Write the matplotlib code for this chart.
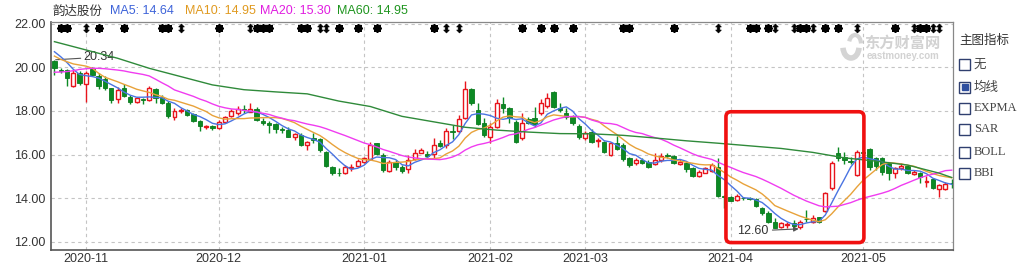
import numpy as np
import pandas as pd
import matplotlib
matplotlib.use('Agg')
import matplotlib.pyplot as plt
from matplotlib.patches import FancyBboxPatch, Rectangle, Arc

# 韵达股份 日K (2020-10-26 ~ 2021-05-26)
opens = [20.30, 19.86, 19.87, 19.14, 19.72, 19.22, 19.90, 19.60, 19.44, 19.03,
         18.53, 19.03, 18.65, 18.42, 18.53, 18.50, 19.00, 18.62, 18.38, 17.71,
         18.00, 18.04, 17.86, 17.54, 17.27, 17.31, 17.20, 17.51, 17.77, 17.92,
         18.07, 17.96, 18.07, 17.55, 17.46, 17.40, 17.15, 17.13, 16.82, 16.90,
         16.42, 16.75, 16.70, 16.13, 15.42, 15.17, 15.14, 15.38, 15.48, 15.68,
         15.78, 16.51, 15.98, 15.25, 15.68, 15.45, 15.33, 15.78, 16.09, 16.03,
         16.03, 16.51, 16.44, 17.09, 17.09, 17.66, 18.99, 18.04, 17.46, 16.79,
         17.28, 18.32, 18.12, 17.51, 16.74, 17.63, 17.66, 17.89, 18.22, 18.88,
         18.12, 17.92, 17.70, 17.31, 16.74, 17.05, 16.60, 16.59, 15.98, 16.51,
         16.44, 15.83, 15.60, 15.75, 15.68, 15.57, 15.75, 15.98, 15.93, 15.57,
         15.60, 15.37, 15.02, 15.17, 15.26, 15.45, 14.10, 14.07, 13.92, 14.00,
         14.00, 13.95, 13.54, 13.34, 12.93, 12.70, 12.79, 12.85, 12.70, 13.06,
         12.90, 13.13, 13.43, 14.45, 16.09, 15.90, 15.72, 15.07, 16.10, 16.24,
         15.83, 15.83, 15.60, 15.14, 15.37, 15.48, 15.11, 15.17, 14.76, 14.87,
         14.42, 14.41, 14.70]
highs = [20.34, 19.95, 19.90, 19.87, 19.84, 19.83, 19.99, 19.72, 19.60, 19.06,
         19.11, 19.23, 18.73, 18.65, 18.57, 19.14, 19.06, 18.73, 18.47, 18.12,
         18.12, 18.07, 17.92, 17.58, 17.35, 17.35, 17.58, 17.77, 18.07, 18.22,
         18.27, 18.38, 18.19, 17.66, 17.55, 17.46, 17.25, 17.25, 17.00, 16.97,
         16.64, 16.97, 16.78, 16.15, 15.48, 15.37, 15.52, 15.57, 15.78, 15.90,
         16.59, 16.55, 16.06, 15.75, 15.75, 15.52, 15.98, 16.24, 16.29, 16.18,
         16.74, 16.67, 17.20, 17.35, 17.81, 19.38, 19.03, 18.35, 17.66, 17.43,
         18.53, 18.62, 18.19, 17.58, 17.92, 17.74, 18.16, 18.53, 18.83, 18.93,
         18.38, 18.12, 17.81, 17.40, 17.09, 17.16, 16.74, 16.64, 16.59, 16.85,
         16.51, 15.90, 15.83, 15.83, 15.75, 16.06, 16.06, 16.06, 15.98, 15.78,
         15.68, 15.42, 15.29, 15.45, 15.60, 15.83, 14.15, 14.10, 14.20, 14.07,
         14.05, 14.00, 13.62, 13.43, 13.08, 12.93, 12.93, 13.00, 13.00, 13.46,
         13.23, 13.16, 14.30, 15.72, 16.33, 16.13, 15.90, 16.21, 16.67, 16.30,
         15.90, 15.90, 15.68, 15.45, 15.60, 15.52, 15.29, 15.22, 15.02, 14.91,
         14.65, 14.76, 14.87]
lows = [19.64, 19.72, 19.14, 19.11, 19.19, 18.42, 19.60, 19.00, 18.96, 18.35,
        18.38, 18.62, 18.32, 18.37, 18.32, 18.47, 18.37, 18.32, 17.66, 17.58,
        17.90, 17.77, 17.49, 17.09, 17.16, 17.12, 17.16, 17.46, 17.72, 17.81,
        17.92, 17.95, 17.55, 17.36, 16.97, 17.00, 17.00, 16.79, 16.67, 16.39,
        16.20, 16.55, 16.13, 15.44, 15.07, 15.02, 15.11, 15.27, 15.45, 15.63,
        15.75, 15.98, 15.22, 15.22, 15.30, 15.14, 15.14, 15.75, 16.06, 15.87,
        15.78, 16.33, 16.29, 16.70, 17.00, 17.61, 18.27, 17.35, 16.79, 16.55,
        17.20, 17.89, 17.43, 16.51, 16.67, 17.40, 17.28, 17.81, 18.12, 18.12,
        17.96, 17.61, 17.35, 16.70, 16.67, 16.52, 16.36, 16.09, 15.93, 16.21,
        15.72, 15.45, 15.52, 15.57, 15.37, 15.52, 15.68, 15.83, 15.57, 15.52,
        15.22, 14.99, 14.99, 15.14, 15.22, 14.05, 13.54, 13.86, 13.89, 13.92,
        13.90, 13.62, 13.23, 12.88, 12.62, 12.65, 12.64, 12.70, 12.60, 12.93,
        12.85, 12.85, 13.39, 14.38, 15.72, 15.57, 15.57, 15.02, 15.90, 15.30,
        15.30, 15.07, 14.83, 14.91, 15.29, 15.09, 15.07, 14.71, 14.53, 14.41,
        14.05, 14.38, 14.45]
closes = [19.98, 19.84, 19.49, 19.75, 19.26, 19.72, 19.64, 19.14, 19.03, 18.50,
          18.96, 18.68, 18.42, 18.57, 18.50, 19.03, 18.57, 18.35, 17.77, 18.01,
          18.04, 17.81, 17.54, 17.31, 17.30, 17.20, 17.51, 17.71, 17.98, 18.07,
          18.03, 18.09, 17.58, 17.43, 17.35, 17.16, 17.13, 16.82, 16.94, 16.44,
          16.58, 16.68, 16.21, 15.48, 15.14, 15.14, 15.45, 15.42, 15.72, 15.83,
          16.44, 16.03, 15.29, 15.68, 15.42, 15.27, 15.75, 16.09, 16.21, 15.95,
          16.44, 16.39, 17.09, 17.03, 17.61, 18.99, 18.35, 17.40, 16.90, 17.28,
          18.38, 18.12, 17.66, 16.59, 17.43, 17.46, 17.40, 18.38, 18.57, 18.19,
          18.04, 17.74, 17.43, 16.82, 16.97, 16.59, 16.65, 16.13, 16.55, 16.24,
          15.78, 15.52, 15.75, 15.60, 15.45, 15.75, 15.93, 15.93, 15.60, 15.68,
          15.32, 15.02, 15.22, 15.37, 15.52, 14.10, 14.05, 13.89, 14.10, 13.99,
          13.97, 13.65, 13.31, 12.93, 12.65, 12.85, 12.82, 12.73, 12.90, 13.04,
          13.11, 12.90, 14.23, 15.63, 15.83, 15.75, 15.66, 16.13, 16.05, 15.45,
          15.48, 15.22, 15.14, 15.37, 15.48, 15.14, 15.22, 14.99, 14.79, 14.45,
          14.62, 14.65, 14.68]

# first values of the averages (history before the window is not on the chart)
ma5_head = [20.71, 20.48, 20.21, 19.90]
ma10_head = [20.51, 20.36, 20.25, 20.15, 20.10, 20.05, 19.95, 19.72, 19.54]
ma20_head = [19.77, 19.78, 19.80, 19.84, 19.90, 19.93, 19.95, 19.95, 19.93, 19.90,
             19.87, 19.83, 19.77, 19.72, 19.67, 19.60, 19.45, 19.29, 19.14]

# MA60
ma60_idx = [0, 5, 10, 15, 20, 25, 30, 35, 40, 45, 50, 55, 60, 65, 70, 75, 80,
            85, 90, 95, 100, 105, 110, 115, 120, 125, 130, 135, 140, 142]
ma60_val = [21.17, 20.79, 20.41, 19.95, 19.57, 19.19, 18.97, 18.87, 18.78, 18.45,
            18.20, 17.75, 17.50, 17.25, 17.12, 17.03, 16.96, 16.95, 16.88, 16.76,
            16.63, 16.52, 16.40, 16.28, 16.10, 15.85, 15.70, 15.52, 15.15, 14.95]

month_idx = [5, 26, 49, 69, 84, 107, 128]
month_lab = ['2020-11', '2020-12', '2021-01', '2021-02', '2021-03', '2021-04', '2021-05']

# event markers on top row
star_idx = [1, 2, 7, 11, 17, 18, 26, 32, 33, 34, 39, 40, 45, 48, 51, 60, 74, 77,
            79, 82, 90, 91, 98, 110, 111, 113, 118, 119, 122, 124, 133, 137, 138]
arrow_idx = [5, 20, 31, 42, 43, 62, 64, 105, 114, 117, 120, 127, 136, 139, 140]

legend_txt = ['MA5: 14.64', 'MA10: 14.95', 'MA20: 15.30', 'MA60: 14.95']
menu_items = ['无', '均线', 'EXPMA', 'SAR', 'BOLL', 'BBI']

plt.rcParams['font.family'] = ['Liberation Sans', 'Noto Sans CJK SC', 'DejaVu Sans']

W, H = 1017, 270
fig = plt.figure(figsize=(W / 100, H / 100), dpi=100)
ax = fig.add_axes([51 / W, 20 / H, 902 / W, 228 / H])

o = np.array(opens)
h = np.array(highs)
l = np.array(lows)
c = np.array(closes)
x = np.arange(len(c))
up = c >= o
red = '#e8141c'
green = '#0c8a24'

s = pd.Series(c)
ma5 = s.rolling(5).mean().values
ma5[:4] = ma5_head
ma10 = s.rolling(10).mean().values
ma10[:9] = ma10_head
ma20 = s.rolling(20).mean().values
ma20[:19] = ma20_head

# grid
ax.set_yticks([12, 14, 16, 18, 20, 22])
ax.set_yticklabels(['%.2f' % v for v in [12, 14, 16, 18, 20, 22]])
ax.set_xticks(month_idx)
ax.set_xticklabels(month_lab)
ax.grid(True, linestyle=(0, (3, 3)), color='#c4c4c4', lw=0.8)
ax.set_axisbelow(True)

# candles
top = np.maximum(o, c)
bot = np.minimum(o, c)
ax.vlines(x[~up], l[~up], h[~up], color=green, lw=1, zorder=2)
ax.vlines(x[up], top[up], h[up], color=red, lw=1, zorder=2)
ax.vlines(x[up], l[up], bot[up], color=red, lw=1, zorder=2)
body = np.maximum(top - bot, 0.025)
ax.bar(x[~up], body[~up], bottom=bot[~up], width=0.7, color=green,
       edgecolor='#0a7a1e', lw=0.6, zorder=3)
ax.bar(x[up], body[up], bottom=bot[up], width=0.62, color='white',
       edgecolor=red, lw=1, zorder=3)

# moving averages
ax.plot(x, ma5, color='#4a74e2', lw=1, zorder=4)
ax.plot(x, ma10, color='#e8a23a', lw=1, zorder=4)
ax.plot(x, ma20, color='#f03cf0', lw=1, zorder=4)
ax.plot(ma60_idx, ma60_val, color='#2f8a3a', lw=1, zorder=4)

# markers
ax.scatter(star_idx, [21.79] * len(star_idx), marker=(8, 2, 0), s=26,
           linewidths=1.4, color='black', zorder=5)
ax.scatter(arrow_idx, [21.79] * len(arrow_idx), marker='$⬍$', s=40,
           linewidths=0.5, color='black', zorder=5)

# high / low notes
ax.annotate('20.34', xy=(0.2, 20.34), xytext=(4.6, 20.46), fontsize=9,
            color='#333333', ha='left', va='center',
            arrowprops=dict(arrowstyle='-', color='#555555', lw=0.8, shrinkA=0, shrinkB=0))
ax.annotate('12.60', xy=(118, 12.60), xytext=(108.0, 12.50), fontsize=9,
            color='#333333', ha='left', va='center',
            arrowprops=dict(arrowstyle='-|>', color='#555555', lw=0.8,
                            mutation_scale=7, shrinkA=1, shrinkB=1))

# red highlight box
box = FancyBboxPatch((106.27, 11.97), 21.83, 5.99,
                     boxstyle='round,pad=0,rounding_size=0.8',
                     mutation_aspect=6.32 / 21.85, fill=False,
                     ec='#f01010', lw=2.6, zorder=6)
ax.add_patch(box)

ax.set_xlim(-0.54, 142.2)
ax.set_ylim(11.63, 22.07)
ax.tick_params(axis='both', length=0, labelsize=9, colors='#333333')
ax.tick_params(axis='y', pad=4)
ax.tick_params(axis='x', pad=2)
for sp in ['left', 'bottom']:
    ax.spines[sp].set_color('#555555')
    ax.spines[sp].set_linewidth(1.2)
for sp in ['right', 'top']:
    ax.spines[sp].set_color('#888888')
    ax.spines[sp].set_linewidth(0.9)

# title row
fig.text(53 / W, 1 - 11 / H, '韵达股份', fontsize=9, color='#333333',
         va='center', family='Noto Sans CJK SC')
leg_x = [110, 185, 260, 337]
leg_c = ['#3d63d9', '#e09a20', '#e01de0', '#1f951f']
for t, xx, cc in zip(legend_txt, leg_x, leg_c):
    fig.text(xx / W, 1 - 11 / H, t, fontsize=9, color=cc, va='center')

# watermark
fig.add_artist(Arc((851 / W, 1 - 47 / H), 16 / W, 22 / H, theta1=200, theta2=340,
                   transform=fig.transFigure, color='#d4d4d4', lw=4))
fig.add_artist(Arc((855 / W, 1 - 44 / H), 12 / W, 18 / H, theta1=20, theta2=120,
                   transform=fig.transFigure, color='#d4d4d4', lw=3))
fig.text(902 / W, 1 - 43 / H, '东方财富网', fontsize=11, color='#d2d2d2',
         ha='center', va='center', family='Noto Sans CJK SC', fontweight='bold')
fig.text(903 / W, 1 - 56 / H, 'eastmoney.com', fontsize=7, color='#d2d2d2',
         ha='center', va='center', fontweight='bold')

# side menu
fig.text(959 / W, 1 - 40 / H, '主图指标', fontsize=9, color='#333333',
         va='center', family='Noto Sans CJK SC')
menu_y = [64, 87, 108, 129, 152, 173]
for k, (t, yy) in enumerate(zip(menu_items, menu_y)):
    fig.add_artist(Rectangle((959 / W, (H - yy - 5.5) / H), 11 / W, 11 / H,
                             transform=fig.transFigure, fill=False,
                             ec='#2f3f6f', lw=1))
    if k == 1:
        fig.add_artist(Rectangle((962 / W, (H - yy - 2.5) / H), 5.5 / W, 5.5 / H,
                                 transform=fig.transFigure, color='#2f4f9f'))
    fam = ['Noto Sans CJK SC'] if k < 2 else ['Liberation Serif']
    fig.text(974 / W, 1 - yy / H, t, fontsize=9, color='#444444',
             va='center', family=fam)

fig.savefig('out.png', dpi=100)
